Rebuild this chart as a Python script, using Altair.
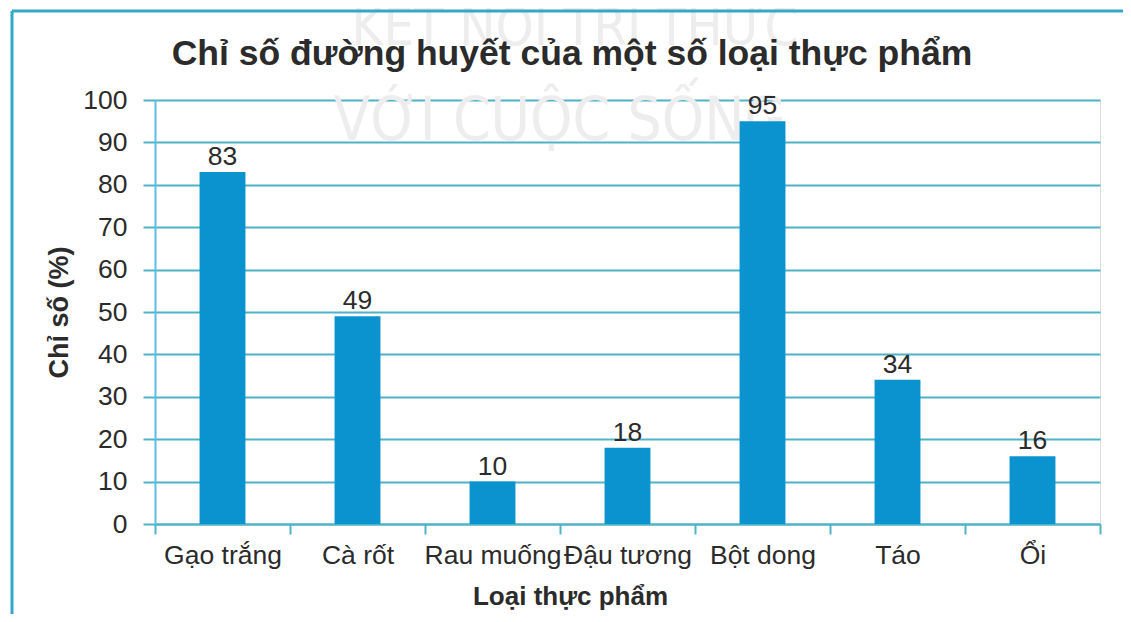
import altair as alt
import pandas as pd

categories = ["Gạo trắng", "Cà rốt", "Rau muống", "Đậu tương", "Bột dong", "Táo", "Ổi"]
values = [83, 49, 10, 18, 95, 34, 16]
y_ticks = [0, 10, 20, 30, 40, 50, 60, 70, 80, 90, 100]
title_text = "Chỉ số đường huyết của một số loại thực phẩm"

df = pd.DataFrame({"cat": categories, "val": values})

FONT = "Liberation Sans"
TEXT = "#2b2b2b"
GRID = "#4fb2c6"
BAR = "#0b93cf"
BORDER = "#35a6cc"
FS = 26.5

x_enc = alt.X(
    "cat:N",
    sort=categories,
    scale=alt.Scale(paddingInner=0, paddingOuter=0),
    axis=alt.Axis(
        title="Loại thực phẩm",
        labelAngle=0,
        labelFontSize=FS,
        labelFont=FONT,
        labelColor=TEXT,
        labelPadding=8,
        tickBand="extent",
        tickSize=10,
        tickColor=GRID,
        tickWidth=2,
        domainColor=GRID,
        domainWidth=2,
        titleFontSize=26,
        titleFont=FONT,
        titleFontWeight="bold",
        titleColor=TEXT,
        titlePadding=15,
        titleX=415,
        grid=False,
    ),
)

y_enc = alt.Y(
    "val:Q",
    scale=alt.Scale(domain=[0, 100], nice=False),
    axis=alt.Axis(
        title="Chỉ số (%)",
        values=y_ticks,
        labelFontSize=FS,
        labelFont=FONT,
        labelColor=TEXT,
        labelPadding=16,
        tickSize=12,
        tickColor=GRID,
        tickWidth=2,
        grid=True,
        gridColor=GRID,
        gridWidth=2,
        gridOpacity=1,
        domainColor="#5bbde3",
        domainWidth=2,
        titleFontSize=27,
        titleFont=FONT,
        titleFontWeight="bold",
        titleColor=TEXT,
        titlePadding=9,
    ),
)

base = alt.Chart(df)

bars = base.mark_bar(color=BAR, width=alt.RelativeBandSize(0.34)).encode(x=x_enc, y=y_enc)

labels = base.mark_text(
    baseline="bottom", dy=-1, fontSize=FS, font=FONT, color=TEXT
).encode(x=alt.X("cat:N", sort=categories), y="val:Q", text="val:Q")

one = alt.Data(values=[{"a": 1}])
wm_top = alt.Chart(one).mark_text(
    text="KẾT NỐI TRI THỨC", fontSize=54, font="DejaVu Sans Condensed",
    color="#ededed", align="center", baseline="alphabetic"
).encode(x=alt.value(420), y=alt.value(-55))
wm_bot = alt.Chart(one).mark_text(
    text="VỚI CUỘC SỐNG", fontSize=60, font="DejaVu Sans Condensed",
    color="#ededed", align="center", baseline="alphabetic"
).encode(x=alt.value(405), y=alt.value(40))

title = alt.Chart(one).mark_text(
    text=title_text, fontSize=35.5, font=FONT, fontWeight="bold",
    color=TEXT, align="center", baseline="alphabetic"
).encode(x=alt.value(417), y=alt.value(-35))

border_top = alt.Chart(one).mark_rule(color=BORDER, strokeWidth=3).encode(
    x=alt.value(-143), x2=alt.value(968), y=alt.value(-89)
)
border_left = alt.Chart(one).mark_rule(color=BORDER, strokeWidth=3).encode(
    x=alt.value(-143), y=alt.value(-89), y2=alt.value(514)
)

chart = alt.layer(wm_top, wm_bot, bars, labels, title, border_top, border_left).properties(
    width=945,
    height=424,
    autosize=alt.AutoSizeParams(type="none"),
    padding={"left": 147, "top": 92, "right": 23, "bottom": 90},
).configure_view(stroke=None).configure(background="white")

chart.save("out.html", embed_options={"renderer": "svg", "actions": False})
